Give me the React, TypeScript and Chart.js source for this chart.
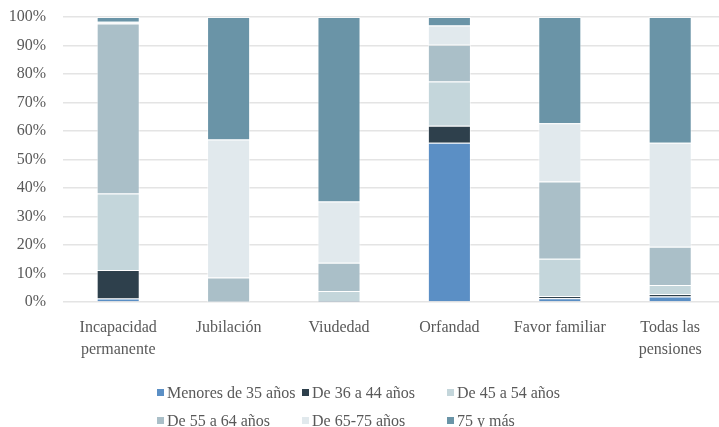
import React, { useEffect, useRef } from "react";
import { Chart, registerables } from "chart.js";

Chart.register(...registerables);

const categories: string[][] = [
  ["Incapacidad", "permanente"],
  ["Jubilación"],
  ["Viudedad"],
  ["Orfandad"],
  ["Favor familiar"],
  ["Todas las", "pensiones"],
];

const seriesNames = [
  "Menores de 35 años",
  "De 36 a 44 años",
  "De 45 a 54 años",
  "De 55 a 64 años",
  "De 65-75 años",
  "75 y más",
];

const menores35 = [1.2, 0, 0.1, 55.9, 1.3, 1.9];
const de36a44 = [10.0, 0, 0.2, 5.9, 0.8, 0.9];
const de45a54 = [26.9, 0.1, 3.6, 15.6, 13.1, 3.2];
const de55a64 = [59.6, 8.5, 9.9, 12.9, 27.1, 13.4];
const de65a75 = [0.6, 48.4, 21.5, 6.7, 20.4, 36.5];
const mas75 = [1.7, 43.0, 64.7, 3.0, 37.3, 44.1];

const yTicks = [0, 10, 20, 30, 40, 50, 60, 70, 80, 90, 100];

const colors = ["#5b8fc5", "#2e404c", "#c4d6db", "#aabfc8", "#e1e9ed", "#6a94a7"];

const FONT = "'Liberation Serif', 'Times New Roman', serif";
const TEXT = "#595959";

export default function App() {
  const ref = useRef<HTMLCanvasElement | null>(null);

  useEffect(() => {
    if (!ref.current) return;
    const values = [menores35, de36a44, de45a54, de55a64, de65a75, mas75];
    const chart = new Chart(ref.current, {
      type: "bar",
      data: {
        labels: categories,
        datasets: seriesNames.map((name, i) => ({
          label: name,
          data: values[i],
          backgroundColor: colors[i],
          borderColor: "rgba(255,255,255,0.55)",
          borderWidth: 1,
          categoryPercentage: 1,
          barPercentage: 0.39,
        })),
      },
      options: {
        responsive: false,
        animation: false,
        devicePixelRatio: 1,
        layout: { padding: { left: 8.7, right: 14.6, top: 17, bottom: 66 } },
        plugins: {
          legend: { display: false },
          tooltip: { enabled: false },
        },
        scales: {
          x: {
            stacked: true,
            grid: { display: false, drawTicks: false },
            border: { display: false },
            afterFit: (scale: any) => {
              scale.height = 59;
            },
            ticks: {
              color: TEXT,
              padding: 15,
              maxRotation: 0,
              autoSkip: false,
              font: { family: FONT, size: 16, lineHeight: 1.375 },
            },
          },
          y: {
            stacked: true,
            min: 0,
            max: 100,
            afterBuildTicks: (scale: any) => {
              scale.ticks = yTicks.map((v) => ({ value: v }));
            },
            afterFit: (scale: any) => {
              scale.width = 54.3;
              scale.paddingTop = 0;
              scale.paddingBottom = 0;
            },
            grid: { color: "#e4e4e4", lineWidth: 1.5, drawTicks: false },
            border: { display: false },
            ticks: {
              color: TEXT,
              padding: 17,
              font: { family: FONT, size: 16 },
              callback: (v: any) => `${v}%`,
            },
          },
        },
      },
    });
    return () => chart.destroy();
  }, []);

  const legendPos = [
    { x: 157, y: 393 },
    { x: 302, y: 393 },
    { x: 447, y: 393 },
    { x: 157, y: 421 },
    { x: 302, y: 421 },
    { x: 447, y: 421 },
  ];

  return (
    <div
      style={{
        position: "fixed",
        left: 0,
        top: 0,
        width: 719,
        height: 427,
        overflow: "hidden",
        background: "#fff",
      }}
    >
      <canvas ref={ref} width={740} height={427} style={{ display: "block" }} />
      {seriesNames.map((name, i) => (
        <div
          key={name}
          style={{
            position: "absolute",
            left: legendPos[i].x,
            top: legendPos[i].y - 10,
            height: 20,
            display: "flex",
            alignItems: "center",
            fontFamily: FONT,
            fontSize: 16,
            color: TEXT,
            whiteSpace: "nowrap",
          }}
        >
          <span
            style={{
              display: "inline-block",
              width: 7,
              height: 7,
              background: colors[i],
              marginRight: 3,
              marginTop: -1,
            }}
          />
          <span>{name}</span>
        </div>
      ))}
    </div>
  );
}
